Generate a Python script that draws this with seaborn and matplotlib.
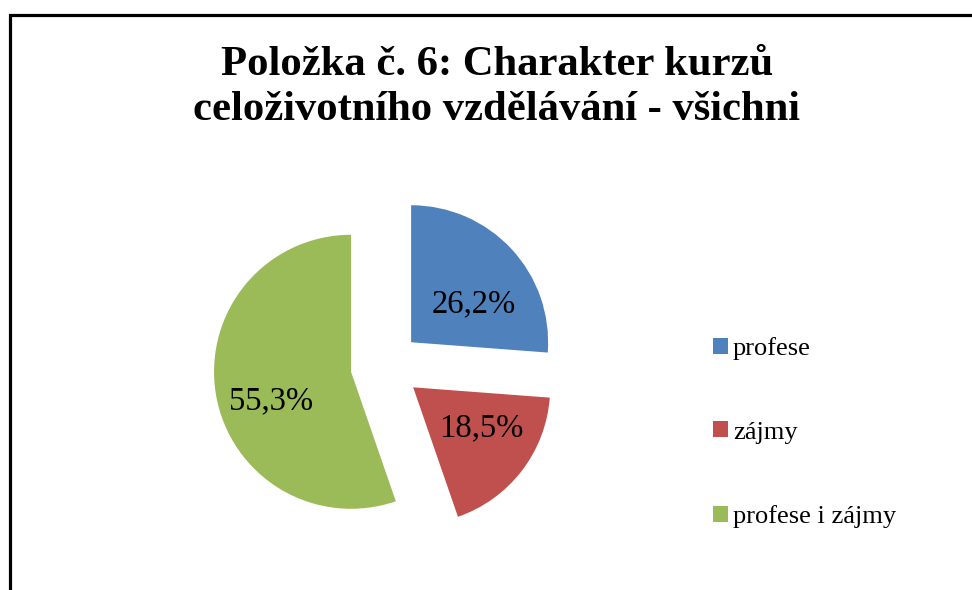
import matplotlib
matplotlib.use("Agg")
import matplotlib.pyplot as plt
import matplotlib.patches as mpatches
import seaborn as sns

# ---- data ----
categories = ["profese", "zájmy", "profese i zájmy"]
values = [26.2, 18.5, 55.3]
value_labels = ["26,2%", "18,5%", "55,3%"]
title_text = "Položka č. 6: Charakter kurzů\nceloživotního vzdělávání - všichni"

# ---- style ----
colors = ["#4F81BD", "#C0504D", "#9BBB59"]
sns.set_theme(style="white")
plt.rcParams["font.family"] = ["Liberation Serif", "DejaVu Serif"]
plt.rcParams["text.color"] = "black"

W, H = 972, 590
fig = plt.figure(figsize=(W / 100, H / 100), dpi=100)
fig.patch.set_facecolor("white")

# pie geometry in pixels
cx, cy, rpx = 385.5, 366.0, 137.0
ax = fig.add_axes([0, 0, 1, 1])
wedges, texts, autotexts = ax.pie(
    values,
    colors=colors,
    startangle=90,
    counterclock=False,
    explode=[0.255] * len(values),
    radius=1.0,
    autopct="%1.1f%%",
    pctdistance=0.6,
    wedgeprops=dict(linewidth=0),
    textprops=dict(fontsize=23.5, color="black"),
)
ax.set_aspect("auto")
ax.set_xlim(-cx / rpx, (W - cx) / rpx)
ax.set_ylim(-(H - cy) / rpx, cy / rpx)
ax.axis("off")

# label placement (relative to pie centre, in radius units)
label_xy = [(0.646, 0.455), (0.697, -0.455), (-0.836, -0.258)]
for t, s, (lx, ly) in zip(autotexts, value_labels, label_xy):
    t.set_text(s)
    t.set_position((lx, ly))
    t.set_ha("center")
    t.set_va("center")

# title
fig.text(0.511, 1 - 46 / H, title_text, ha="center", va="top",
         fontsize=30.7, fontweight="bold", linespacing=1.25, color="black")

# legend
handles = [mpatches.Patch(facecolor=c, edgecolor="none", label=l)
           for c, l in zip(colors, categories)]
leg = fig.legend(handles=handles, loc="upper left",
                 bbox_to_anchor=(713 / W, 1 - 337 / H),
                 frameon=False, fontsize=19,
                 handlelength=0.55, handleheight=0.55,
                 handletextpad=0.2, labelspacing=2.33,
                 borderaxespad=0, borderpad=0)
for t in leg.get_texts():
    t.set_color("black")

# outer frame (left and top edges visible)
frame = mpatches.Rectangle((9.5 / W, -0.1), 2.0, (1 - 15.5 / H) + 0.1,
                           transform=fig.transFigure, fill=False,
                           edgecolor="black", linewidth=2.3, clip_on=False)
fig.patches.append(frame)

fig.savefig("out.png", dpi=100, facecolor="white")
